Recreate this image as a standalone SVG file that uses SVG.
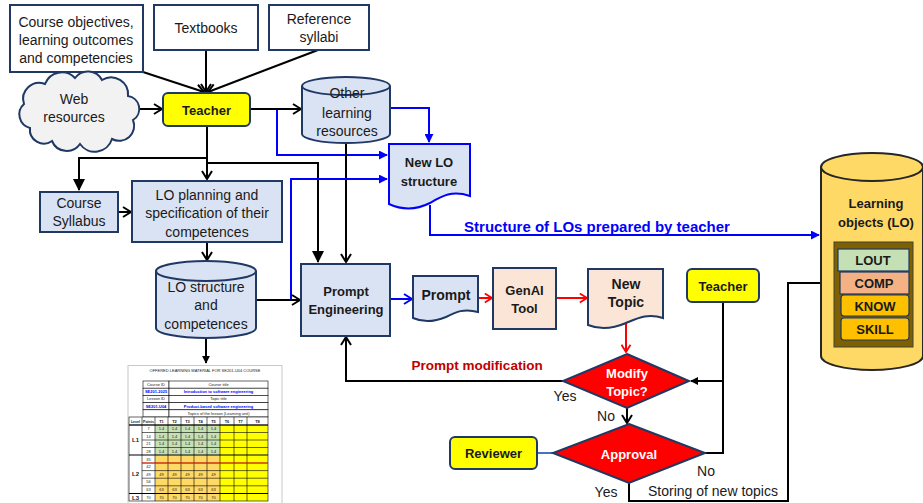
<svg xmlns="http://www.w3.org/2000/svg" width="923" height="503" viewBox="0 0 923 503">
  <style>
    text { font-family: "Liberation Sans", Arial, sans-serif; fill: #1a1a1a; text-anchor: middle; }
    .t14 { font-size: 14px; }
    .b13 { font-size: 13px; font-weight: bold; }
    .b14 { font-size: 14px; font-weight: bold; }
    .w13 { font-size: 13px; font-weight: bold; fill: #ffffff; }
    .lbl { font-size: 14px; }
    .box { fill: #ffffff; stroke: #1f3864; stroke-width: 2; }
    .blue { fill: #dae3f3; stroke: #1f3864; stroke-width: 2; }
    .peach { fill: #fbe5d6; stroke: #1f3864; stroke-width: 2; }
    .yel { fill: #ffff00; stroke: #1f3864; stroke-width: 2; }
    .dia { fill: #ff0000; stroke: #1f3864; stroke-width: 2; }
    .k { fill: none; stroke: #000000; stroke-width: 2; }
    .bl { fill: none; stroke: #0000ff; stroke-width: 2; }
    .rd { fill: none; stroke: #ff0000; stroke-width: 2; }
    .g { stroke: #000; stroke-width: 0.6; }
    .tc { font-size: 4px; }
    .tcb { font-size: 4px; font-weight: bold; fill: #0000ff; }
  </style>
  <defs>
    <marker id="openK" markerUnits="userSpaceOnUse" viewBox="0 0 10 12" refX="9" refY="6" markerWidth="10" markerHeight="12" orient="auto">
      <path d="M1,1 L9,6 L1,11" fill="none" stroke="#000" stroke-width="2"/>
    </marker>
    <marker id="openB" markerUnits="userSpaceOnUse" viewBox="0 0 10 12" refX="9" refY="6" markerWidth="10" markerHeight="12" orient="auto">
      <path d="M1,1 L9,6 L1,11" fill="none" stroke="#0000ff" stroke-width="2"/>
    </marker>
    <marker id="openR" markerUnits="userSpaceOnUse" viewBox="0 0 10 12" refX="9" refY="6" markerWidth="9" markerHeight="11" orient="auto">
      <path d="M1,1 L9,6 L1,11" fill="none" stroke="#ff0000" stroke-width="2"/>
    </marker>
    <marker id="fillK" markerUnits="userSpaceOnUse" viewBox="0 0 12 12" refX="11" refY="6" markerWidth="12" markerHeight="12" orient="auto">
      <path d="M0,0 L12,6 L0,12 z" fill="#000"/>
    </marker>
    <marker id="fillKs" markerUnits="userSpaceOnUse" viewBox="0 0 10 10" refX="9" refY="5" markerWidth="8" markerHeight="8" orient="auto">
      <path d="M0,0 L10,5 L0,10 z" fill="#000"/>
    </marker>
    <marker id="fillB" markerUnits="userSpaceOnUse" viewBox="0 0 10 10" refX="9" refY="5" markerWidth="9" markerHeight="9" orient="auto">
      <path d="M0,0 L10,5 L0,10 z" fill="#0000ff"/>
    </marker>
  </defs>

  <!-- connectors -->
  <g id="connectors">
    <path class="k" d="M143,72 L204,92" marker-end="url(#openK)"/>
    <path class="k" d="M206,50 V92" marker-end="url(#openK)"/>
    <path class="k" d="M318,50 L208,92" marker-end="url(#openK)"/>
    <path class="k" d="M137,109 H162" marker-end="url(#openK)"/>
    <path class="bl" d="M250,109 H277 V155 H387" marker-end="url(#fillB)"/>
    <path class="k" d="M250,109 H301" marker-end="url(#openK)"/>
    <path class="bl" d="M390,108 H429 V142" marker-end="url(#fillB)"/>
    <path class="k" d="M346,143 V262" marker-end="url(#openK)"/>
    <path class="k" d="M207,126 V179" marker-end="url(#openK)"/>
    <path class="k" d="M207,158 H79 V190" marker-end="url(#fillK)"/>
    <path class="k" d="M207,163 H318 V262" marker-end="url(#fillK)"/>
    <path class="k" d="M118,212 H131" marker-end="url(#openK)"/>
    <path class="k" d="M207,242 V260" marker-end="url(#openK)"/>
    <path class="bl" d="M291,300 V179 H387" marker-end="url(#fillB)"/>
    <path class="k" d="M256,300 H300" marker-end="url(#openK)"/>
    <path class="k" d="M206,338 V363" marker-end="url(#fillKs)"/>
    <path class="bl" d="M391,299 H412" marker-end="url(#openB)"/>
    <path class="rd" d="M478,298 H492" marker-end="url(#openR)"/>
    <path class="rd" d="M556,298 H587" marker-end="url(#openR)"/>
    <path class="rd" d="M626,323 V352" marker-end="url(#openR)"/>
    <path class="k" d="M563,381 H346 V337" marker-end="url(#openK)"/>
    <path class="k" d="M627,408 V423" marker-end="url(#openK)"/>
    <path class="k" d="M723,302 V453 H705"/>
    <path class="k" d="M723,381 H691" marker-end="url(#fillKs)"/>
    <path d="M537,453 H553" fill="none" stroke="#4472c4" stroke-width="2"/>
    <path class="k" d="M629,483 V501 H788 V283 H834" stroke-width="1.6" marker-end="url(#openK)"/>
    <path class="bl" d="M430,205 V235 H819" marker-end="url(#fillB)"/>
    <text x="597" y="232" style="font-size:15px;font-weight:bold;fill:#0000ff">Structure of LOs prepared by teacher</text>
    <text x="477" y="370" style="font-size:13.5px;font-weight:bold;fill:#c00000">Prompt modification</text>
    <text class="lbl" x="565" y="400.5">Yes</text>
    <text class="lbl" x="606" y="420.5">No</text>
    <text class="lbl" x="706" y="475.5">No</text>
    <text class="lbl" x="606" y="496.5">Yes</text>
    <text class="lbl" x="713" y="495.5">Storing of new topics</text>
  </g>

  <g id="course-objectives">
    <rect class="box" x="10" y="5" width="133" height="67"/>
    <text class="t14" x="76" y="27">Course objectives,</text>
    <text class="t14" x="76" y="45">learning outcomes</text>
    <text class="t14" x="76" y="63">and competencies</text>
  </g>
  <g id="textbooks">
    <rect class="box" x="154" y="5" width="104" height="45"/>
    <text class="t14" x="206" y="33">Textbooks</text>
  </g>
  <g id="reference-syllabi">
    <rect class="box" x="269" y="5" width="100" height="45"/>
    <text class="t14" x="319" y="24">Reference</text>
    <text class="t14" x="319" y="42">syllabi</text>
  </g>
  <g id="web-resources">
    <path d="M30,128 A14,14 0 0 1 24,104 A16,16 0 0 1 45,84 A18,18 0 0 1 75,78 A16,16 0 0 1 102,80 A17,17 0 0 1 128,96 A13,13 0 0 1 133,120 A15,15 0 0 1 112,139 A18,18 0 0 1 80,144 A16,16 0 0 1 52,141 A14,14 0 0 1 30,128 Z" fill="#f2f2f2" stroke="#1f3864" stroke-width="2"/>
    <text class="t14" x="74" y="104">Web</text>
    <text class="t14" x="74" y="122">resources</text>
  </g>
  <g id="teacher">
    <rect class="yel" x="163" y="93" width="87" height="33" rx="5"/>
    <text class="b13" x="206.5" y="114.5">Teacher</text>
  </g>
  <g id="other-resources">
    <path class="blue" d="M302,86 V134 A44,9 0 0 0 390,134 V86 A44,9 0 0 0 302,86 Z"/>
    <path d="M302,86 A44,9 0 0 0 390,86" fill="none" stroke="#1f3864" stroke-width="2"/>
    <text class="t14" x="347" y="98">Other</text>
    <text class="t14" x="347" y="118">learning</text>
    <text class="t14" x="347" y="136">resources</text>
  </g>
  <g id="new-lo-structure">
    <path d="M389,144 H470 V196 C452,190 442,196 430,203 C416,210 402,210 389,204 Z" fill="#dae3f3" stroke="#0000ff" stroke-width="2"/>
    <text class="b13" x="429" y="167">New LO</text>
    <text class="b13" x="429" y="186">structure</text>
  </g>
  <g id="course-syllabus">
    <rect class="blue" x="40" y="192" width="78" height="40"/>
    <text class="t14" x="79" y="208">Course</text>
    <text class="t14" x="79" y="226">Syllabus</text>
  </g>
  <g id="lo-planning">
    <rect class="blue" x="132" y="181" width="150" height="61"/>
    <text class="t14" x="207" y="200">LO planning and</text>
    <text class="t14" x="207" y="218">specification of their</text>
    <text class="t14" x="207" y="237">competences</text>
  </g>
  <g id="lo-structure">
    <path class="blue" d="M156,271 V328 A50,10 0 0 0 256,328 V271 A50,10 0 0 0 156,271 Z"/>
    <path d="M156,271 A50,10 0 0 0 256,271" fill="none" stroke="#1f3864" stroke-width="2"/>
    <text class="t14" x="206" y="292">LO structure</text>
    <text class="t14" x="206" y="310">and</text>
    <text class="t14" x="206" y="329">competences</text>
  </g>
  <g id="prompt-engineering">
    <rect class="blue" x="301" y="264" width="89" height="72"/>
    <text class="b13" x="346" y="296">Prompt</text>
    <text class="b13" x="346" y="314">Engineering</text>
  </g>
  <g id="prompt">
    <path class="blue" d="M413,276 H478 V312 C464,308 456,312 446,317 C434,322 422,322 413,318 Z"/>
    <text class="b14" x="446" y="300">Prompt</text>
  </g>
  <g id="genai-tool">
    <rect class="peach" x="493" y="268" width="63" height="61"/>
    <text class="b13" x="524.5" y="295">GenAI</text>
    <text class="b13" x="524.5" y="313">Tool</text>
  </g>
  <g id="new-topic">
    <path class="peach" d="M588,269 H663 V318 C648,313 638,318 626,323 C612,329 598,329 588,325 Z"/>
    <text class="b14" x="626" y="289">New</text>
    <text class="b14" x="626" y="307">Topic</text>
  </g>
  <g id="modify-topic">
    <polygon class="dia" points="627,354 689,381 627,408 563,381"/>
    <text class="w13" x="627" y="377.5">Modify</text>
    <text class="w13" x="627" y="395.5">Topic?</text>
  </g>
  <g id="approval">
    <polygon class="dia" points="629,424 705,453 629,483 553,453"/>
    <text class="w13" x="629" y="458.5">Approval</text>
  </g>
  <g id="reviewer">
    <rect class="yel" x="450" y="437" width="87" height="32" rx="5"/>
    <text class="b13" x="493.5" y="458">Reviewer</text>
  </g>
  <g id="teacher-review">
    <rect class="yel" x="687" y="269" width="72" height="33" rx="5"/>
    <text class="b13" x="723" y="290.5">Teacher</text>
  </g>

  <g id="learning-objects">
    <path d="M821,167 V356 A51,14 0 0 0 923,356 V167 A51,14 0 0 0 821,167 Z" fill="#ffd966" stroke="#262626" stroke-width="2"/>
    <path d="M821,167 A51,14 0 0 0 923,167" fill="none" stroke="#262626" stroke-width="2"/>
    <text class="b13" x="876" y="208">Learning</text>
    <text class="b13" x="876" y="227">objects (LO)</text>
    <rect x="834" y="242" width="79" height="105" fill="#7f6000" stroke="#404040" stroke-width="1"/>
    <rect x="838" y="249" width="71" height="22" fill="#c5e0b4" stroke="#1f3864" stroke-width="1.2"/>
    <text class="b13" x="873" y="264.5">LOUT</text>
    <rect x="840" y="272" width="69" height="22" fill="#f4b183" stroke="#1f3864" stroke-width="1.2"/>
    <text class="b13" x="874" y="287.5">COMP</text>
    <rect x="841" y="295" width="68" height="21" rx="3" fill="#ffc000" stroke="#1f3864" stroke-width="1.2"/>
    <text class="b13" x="875" y="310.5">KNOW</text>
    <rect x="841" y="318" width="68" height="22" rx="3" fill="#ffc000" stroke="#1f3864" stroke-width="1.2"/>
    <text class="b13" x="875" y="333.5">SKILL</text>
  </g>

  <!-- offered learning material table -->
  <g id="lo-table">
    <rect x="128" y="365.5" width="154" height="140" fill="#ffffff" stroke="#c8c8c8" stroke-width="1"/>
    <text class="tc" x="205" y="371.5">OFFERED LEARNING MATERIAL FOR SE201-U04 COURSE</text>
    <!-- header block -->
    <g fill="#ffffff" class="g">
      <rect x="143" y="381" width="26" height="7.2"/>
      <rect x="169" y="381" width="99" height="7.2"/>
      <rect x="143" y="388.2" width="26" height="7.2"/>
      <rect x="169" y="388.2" width="99" height="7.2"/>
      <rect x="143" y="395.4" width="26" height="7.2"/>
      <rect x="169" y="395.4" width="99" height="7.2"/>
      <rect x="143" y="402.6" width="26" height="7.2"/>
      <rect x="169" y="402.6" width="99" height="7.2"/>
      <rect x="143" y="409.8" width="26" height="7.2"/>
      <rect x="169" y="409.8" width="99" height="7.2"/>
    </g>
    <text class="tc" x="156" y="386">Course ID</text>
    <text class="tc" x="218.5" y="386">Course title</text>
    <text class="tcb" x="156" y="393.2">SE201-2025</text>
    <text class="tcb" x="218.5" y="393.2">Introduction to software engineering</text>
    <text class="tc" x="156" y="400.4">Lesson ID</text>
    <text class="tc" x="218.5" y="400.4">Topic title</text>
    <text class="tcb" x="156" y="407.6">SE201-U04</text>
    <text class="tcb" x="218.5" y="407.6">Product-based software engineering</text>
    <text class="tc" x="218.5" y="414.8">Topics of the lesson (Learning unit)</text>

    <!-- cell fills -->
    <rect x="155" y="425" width="65" height="30" fill="#c6e0b4"/>
    <rect x="155" y="455" width="65" height="46" fill="#ffd966"/>
    <rect x="220" y="425" width="48" height="76" fill="#ffff00"/>
    <rect x="129" y="417" width="139" height="8" fill="#ffffff"/>
    <rect x="129" y="425" width="26" height="76" fill="#ffffff"/>

    <!-- grid -->
    <g class="g" fill="none">
      <rect x="129" y="417" width="139" height="84"/>
      <path d="M142,417 V501 M155,417 V501 M168,417 V501 M181,417 V501 M194,417 V501 M207,417 V501 M220,417 V501 M234,417 V501 M247,417 V501"/>
      <path d="M129,425 H268 M142,432.5 H268 M142,440 H268 M142,447.5 H268 M142,463 H268 M142,470.6 H268 M142,478.2 H268 M142,485.8 H268"/>
    </g>
    <path d="M129,455 H268 M129,493.5 H268 M129,425 H268" stroke="#000" stroke-width="1.1"/>
    <path d="M142,463 H268" stroke="#ff2000" stroke-width="1"/>

    <g class="tc" style="font-weight:bold">
      <text x="135.5" y="422.5" style="font-size:3.6px">Level</text>
      <text x="148.5" y="422.5" style="font-size:3.6px">Points</text>
      <text x="161.5" y="422.5">T1</text>
      <text x="174.5" y="422.5">T2</text>
      <text x="187.5" y="422.5">T3</text>
      <text x="200.5" y="422.5">T4</text>
      <text x="213.5" y="422.5">T5</text>
      <text x="227" y="422.5">T6</text>
      <text x="240.5" y="422.5">T7</text>
      <text x="257.5" y="422.5">T8</text>
      <text x="135.5" y="442" style="font-size:6px">L1</text>
      <text x="135.5" y="476" style="font-size:6px">L2</text>
      <text x="135.5" y="499.5" style="font-size:6px">L3</text>
    </g>
    <g class="tc">
      <text x="148.5" y="430.2">7</text>
      <text x="148.5" y="437.7">14</text>
      <text x="148.5" y="445.2">21</text>
      <text x="148.5" y="452.7">28</text>
      <text x="148.5" y="460.5">35</text>
      <text x="148.5" y="468.2">42</text>
      <text x="148.5" y="475.8">49</text>
      <text x="148.5" y="483.4">56</text>
      <text x="148.5" y="491">63</text>
      <text x="148.5" y="498.7">70</text>
    </g>
    <g class="tc">
      <text x="161.5" y="430.2">1.4</text><text x="174.5" y="430.2">1.4</text><text x="187.5" y="430.2">1.4</text><text x="200.5" y="430.2">1.4</text><text x="213.5" y="430.2">1.4</text>
      <text x="161.5" y="437.7">1.4</text><text x="174.5" y="437.7">1.4</text><text x="187.5" y="437.7">1.4</text><text x="200.5" y="437.7">1.4</text><text x="213.5" y="437.7">1.4</text>
      <text x="161.5" y="445.2">1.4</text><text x="174.5" y="445.2">1.4</text><text x="187.5" y="445.2">1.4</text><text x="200.5" y="445.2">1.4</text><text x="213.5" y="445.2">1.4</text>
      <text x="161.5" y="452.7">1.4</text><text x="174.5" y="452.7">1.4</text><text x="187.5" y="452.7">1.4</text><text x="200.5" y="452.7">1.4</text><text x="213.5" y="452.7">1.4</text>
      <text x="161.5" y="475.8">49</text><text x="174.5" y="475.8">49</text><text x="187.5" y="475.8">49</text><text x="200.5" y="475.8">49</text><text x="213.5" y="475.8">49</text>
      <text x="161.5" y="491">63</text><text x="174.5" y="491">63</text><text x="187.5" y="491">63</text><text x="200.5" y="491">63</text><text x="213.5" y="491">63</text>
      <text x="161.5" y="498.7">70</text><text x="174.5" y="498.7">70</text><text x="187.5" y="498.7">70</text><text x="200.5" y="498.7">70</text><text x="213.5" y="498.7">70</text>
    </g>
  </g>
</svg>
